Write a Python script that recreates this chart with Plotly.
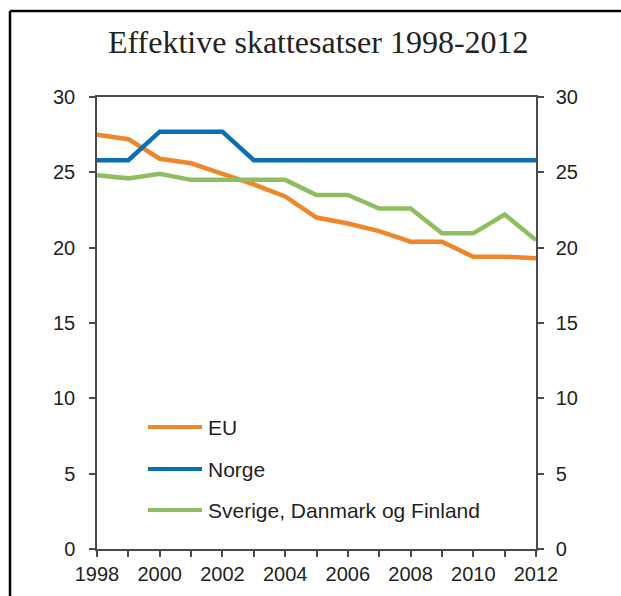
import plotly.graph_objects as go

# Effective tax rates, per cent
years = list(range(1998, 2013))
eu = [27.5, 27.2, 25.9, 25.6, 24.9, 24.2, 23.4, 22.0, 21.6, 21.1, 20.4, 20.4, 19.4, 19.4, 19.3]
norge = [25.8, 25.8, 27.7, 27.7, 27.7, 25.8, 25.8, 25.8, 25.8, 25.8, 25.8, 25.8, 25.8, 25.8, 25.8]
norden = [24.8, 24.6, 24.9, 24.5, 24.5, 24.5, 24.5, 23.5, 23.5, 22.6, 22.6, 20.95, 20.95, 22.2, 20.5]

series_names = ["EU", "Norge", "Sverige, Danmark og Finland"]
series_values = [eu, norge, norden]
series_colors = ["#F0862A", "#0A6FB7", "#8FBE62"]

y_ticks = [0, 5, 10, 15, 20, 25, 30]
x_tickvals = years
x_ticktext = [str(y) if (y - 1998) % 2 == 0 else "" for y in years]

W, H = 621, 596
L, R, T, B = 97, 85, 97, 47
plot_w = W - L - R
plot_h = H - T - B


def px_x(px):
    return (px - L) / plot_w


def px_y(py):
    return (H - B - py) / plot_h


fig = go.Figure()
for name, vals, col in zip(series_names, series_values, series_colors):
    fig.add_trace(go.Scatter(x=years, y=vals, mode="lines", name=name,
                             line=dict(color=col, width=4.5), showlegend=False))

# invisible trace so the right-hand axis is drawn
fig.add_trace(go.Scatter(x=years, y=eu, yaxis="y2", mode="lines",
                         line=dict(width=0), opacity=0, showlegend=False,
                         hoverinfo="skip"))

tick_font = dict(family="Liberation Sans, Arial", size=20, color="#1f1f1f")
axis_col = "#4a4a4a"

shapes = []
annotations = []

# legend drawn inside the plot area
legend_rows = [427, 469, 510]
for name, col, row in zip(series_names, series_colors, legend_rows):
    shapes.append(dict(type="line", xref="paper", yref="paper",
                       x0=px_x(148), x1=px_x(202), y0=px_y(row), y1=px_y(row),
                       line=dict(color=col, width=4)))
    annotations.append(dict(text=name, xref="paper", yref="paper",
                            x=px_x(206), y=px_y(row), xanchor="left", yanchor="middle",
                            showarrow=False,
                            font=dict(family="Liberation Sans, Arial", size=21, color="#1f1f1f")))

# frame along the left and top
shapes.append(dict(type="line", xref="paper", yref="paper",
                   x0=px_x(10), x1=px_x(10), y0=px_y(11), y1=px_y(600),
                   line=dict(color="black", width=2.5)))
shapes.append(dict(type="line", xref="paper", yref="paper",
                   x0=px_x(10), x1=px_x(625), y0=px_y(11), y1=px_y(11),
                   line=dict(color="black", width=2.5)))

fig.update_layout(
    template="none",
    width=W, height=H,
    margin=dict(l=L, r=R, t=T, b=B, autoexpand=False),
    paper_bgcolor="white", plot_bgcolor="white",
    title=dict(text="Effektive skattesatser 1998-2012",
               x=313 / W, xanchor="center", xref="paper",
               y=1 - 42 / H, yanchor="middle",
               font=dict(family="Liberation Serif, Times New Roman", size=32, color="#222222")),
    xaxis=dict(range=[1998, 2012], tickvals=x_tickvals, ticktext=x_ticktext,
               automargin=False,
               showgrid=False, zeroline=False, showline=True, linecolor=axis_col,
               linewidth=1.5, mirror=True, ticks="outside", ticklen=6,
               tickcolor=axis_col, tickwidth=1.5, tickfont=tick_font,
               ticklabelstandoff=0),
    yaxis=dict(range=[0, 30], tickvals=y_ticks, showgrid=False, zeroline=False,
               automargin=False,
               showline=True, linecolor=axis_col, linewidth=1.5, ticks="outside",
               ticklen=6, tickcolor=axis_col, tickwidth=1.5, tickfont=tick_font,
               ticklabelstandoff=10),
    yaxis2=dict(range=[0, 30], tickvals=y_ticks, overlaying="y", side="right",
                automargin=False,
                showgrid=False, zeroline=False, showline=True, linecolor=axis_col,
                linewidth=1.5, ticks="outside", ticklen=6, tickcolor=axis_col,
                tickwidth=1.5, tickfont=tick_font, ticklabelstandoff=8),
    shapes=shapes,
    annotations=annotations,
    showlegend=False,
)

fig.write_html("out.html")
